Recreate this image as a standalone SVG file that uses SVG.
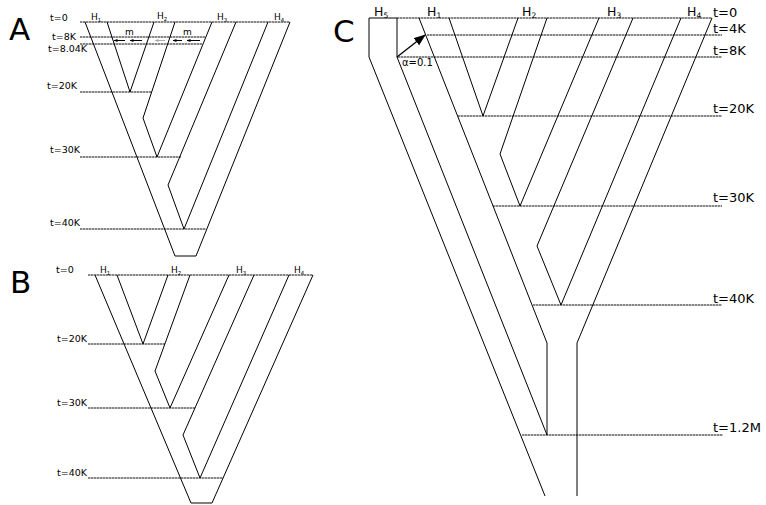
<svg xmlns="http://www.w3.org/2000/svg" width="766" height="505" viewBox="0 0 766 505">
<style>
.br{fill:none;stroke:#000;stroke-width:1;stroke-linejoin:miter}
.tl{fill:none;stroke:#111;stroke-width:1;stroke-dasharray:2.5 0.5}
.big{font-family:"DejaVu Sans",sans-serif;font-size:31px;fill:#000}
.sa{font-family:"DejaVu Sans",sans-serif;font-size:9.5px;fill:#000}
.ha{font-family:"DejaVu Sans",sans-serif;font-size:9px;fill:#000}
.sc{font-family:"DejaVu Sans",sans-serif;font-size:13px;fill:#000}
.hc{font-family:"DejaVu Sans",sans-serif;font-size:12.5px;fill:#000}
.sub{font-size:60%}
.mig{stroke:#000;stroke-width:1}
</style>
<defs>
<marker id="ah" markerWidth="4" markerHeight="4" refX="3.5" refY="2" orient="auto" markerUnits="userSpaceOnUse">
<path d="M0,0.5 L4,2 L0,3.5 Z" fill="#000"/>
</marker>
<marker id="ahg" markerWidth="4" markerHeight="4" refX="3.5" refY="2" orient="auto" markerUnits="userSpaceOnUse">
<path d="M0,0.5 L4,2 L0,3.5 Z" fill="#aaa"/>
</marker>
<marker id="ahc" markerWidth="12" markerHeight="10" refX="11" refY="5" orient="auto" markerUnits="userSpaceOnUse">
<path d="M0,0.5 L12,5 L0,9.5 Z" fill="#000"/>
</marker>
</defs>

<g id="panelA">
<text class="big" x="9" y="40">A</text>
<g id="A-timelines">
<line class="tl" x1="80" y1="22" x2="290" y2="22"/>
<line class="tl" x1="80" y1="37" x2="205" y2="37"/>
<line class="tl" x1="80" y1="44" x2="202" y2="44"/>
<line class="tl" x1="80" y1="92" x2="152" y2="92"/>
<line class="tl" x1="80" y1="157" x2="181" y2="157"/>
<line class="tl" x1="80" y1="229" x2="206" y2="229"/>
</g>
<g id="A-labels">
<text class="sa" x="50" y="21">t=0</text>
<text class="sa" x="52" y="40">t=8K</text>
<text class="sa" x="48" y="52">t=8.04K</text>
<text class="sa" x="47" y="89">t=20K</text>
<text class="sa" x="50" y="153">t=30K</text>
<text class="sa" x="50" y="226">t=40K</text>
<text class="ha" x="91" y="20">H<tspan class="sub" dy="1.5">1</tspan></text>
<text class="ha" x="157" y="19">H<tspan class="sub" dy="1.5">2</tspan></text>
<text class="ha" x="217" y="20">H<tspan class="sub" dy="1.5">3</tspan></text>
<text class="ha" x="274" y="20">H<tspan class="sub" dy="1.5">4</tspan></text>
<text class="ha" x="125" y="35">m</text>
<text class="ha" x="183" y="35">m</text>
</g>
<g id="A-tree">
<polyline class="br" points="107,22 130,92 154,22"/>
<polyline class="br" points="175,22 143,118 157,157 212,22"/>
<polyline class="br" points="236,22 168,185 184,229 268,22"/>
<polyline class="br" points="85,22 175,256 196,256 290,22"/>
</g>
<g id="A-migration">
<line class="mig" x1="125" y1="40.5" x2="114" y2="40.5" marker-end="url(#ah)"/>
<line class="mig" x1="142" y1="40.5" x2="130" y2="40.5" marker-end="url(#ah)"/>
<line x1="165" y1="40.5" x2="155" y2="40.5" stroke="#aaa" stroke-width="1" marker-end="url(#ahg)"/>
<line class="mig" x1="182" y1="40.5" x2="173" y2="40.5" marker-end="url(#ah)"/>
<line class="mig" x1="200" y1="40.5" x2="187" y2="40.5" marker-end="url(#ah)"/>
</g>
</g>

<g id="panelB">
<text class="big" x="10" y="293">B</text>
<g id="B-timelines">
<line class="tl" x1="88" y1="275" x2="313" y2="275"/>
<line class="tl" x1="88" y1="344" x2="165" y2="344"/>
<line class="tl" x1="88" y1="408" x2="195" y2="408"/>
<line class="tl" x1="88" y1="478" x2="223" y2="478"/>
</g>
<g id="B-labels">
<text class="sa" x="56" y="273">t=0</text>
<text class="sa" x="57" y="342">t=20K</text>
<text class="sa" x="57" y="406">t=30K</text>
<text class="sa" x="57" y="476">t=40K</text>
<text class="ha" x="100" y="273">H<tspan class="sub" dy="1.5">1</tspan></text>
<text class="ha" x="171" y="273">H<tspan class="sub" dy="1.5">2</tspan></text>
<text class="ha" x="236" y="273">H<tspan class="sub" dy="1.5">3</tspan></text>
<text class="ha" x="294" y="273">H<tspan class="sub" dy="1.5">4</tspan></text>
</g>
<g id="B-tree">
<polyline class="br" points="117,275 143,344 168,275"/>
<polyline class="br" points="190,275 155,371 170,408 229,275"/>
<polyline class="br" points="254,275 183,435 200,478 289,275"/>
<polyline class="br" points="95,275 191,503 212,503 313,275"/>
</g>
</g>

<g id="panelC">
<text class="big" x="333" y="42">C</text>
<g id="C-timelines">
<line class="tl" x1="397" y1="18" x2="712" y2="18"/>
<line class="tl" x1="427" y1="35" x2="722" y2="35"/>
<line class="tl" x1="398" y1="57" x2="722" y2="57"/>
<line class="tl" x1="458" y1="116" x2="722" y2="116"/>
<line class="tl" x1="493" y1="206" x2="722" y2="206"/>
<line class="tl" x1="533" y1="305" x2="722" y2="305"/>
<line class="tl" x1="522" y1="435" x2="723" y2="435"/>
</g>
<g id="C-labels">
<text class="sc" x="713" y="17">t=0</text>
<text class="sc" x="713" y="33">t=4K</text>
<text class="sc" x="713" y="55">t=8K</text>
<text class="sc" x="713" y="113">t=20K</text>
<text class="sc" x="713" y="202">t=30K</text>
<text class="sc" x="713" y="303">t=40K</text>
<text class="sc" x="713" y="432">t=1.2M</text>
<text class="hc" x="374" y="16">H<tspan class="sub" dy="1.5">5</tspan></text>
<text class="hc" x="427" y="16">H<tspan class="sub" dy="1.5">1</tspan></text>
<text class="hc" x="522" y="16">H<tspan class="sub" dy="1.5">2</tspan></text>
<text class="hc" x="607" y="16">H<tspan class="sub" dy="1.5">3</tspan></text>
<text class="hc" x="687" y="16">H<tspan class="sub" dy="1.5">4</tspan></text>
<text font-family="DejaVu Sans, sans-serif" font-size="10" x="402" y="66">α=0.1</text>
</g>
<g id="C-tree">
<polyline class="br" points="449,18 483,116 518,18"/>
<polyline class="br" points="547,18 500,154 520,206 599,18"/>
<polyline class="br" points="633,18 537,246 561,305 681,18"/>
<polyline class="br" points="419,18 547,343 547,435"/>
<polyline class="br" points="712,18 577,343 577,496"/>
<polyline class="br" points="397,57 397,18 369,18 369,57 545,496"/>
<line class="br" x1="397" y1="57" x2="547" y2="435"/>
</g>
<g id="C-admixture">
<line x1="397" y1="57" x2="425" y2="35" stroke="#000" stroke-width="1.3" marker-end="url(#ahc)"/>
</g>
</g>
</svg>
